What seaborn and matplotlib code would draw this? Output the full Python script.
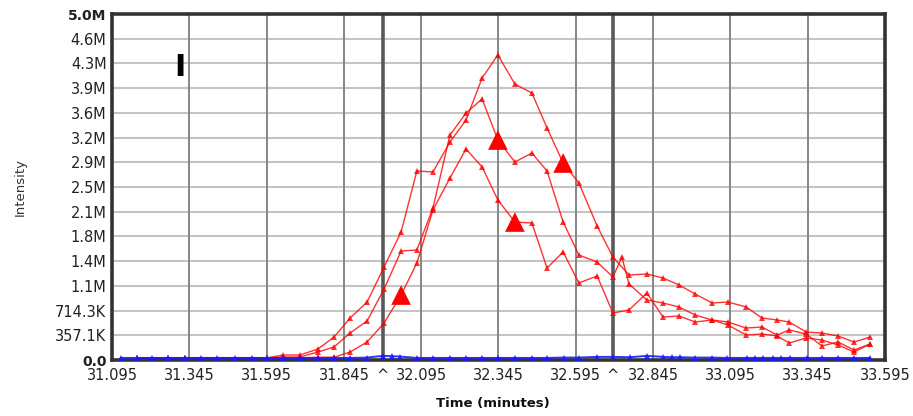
import matplotlib
matplotlib.use("Agg")
import matplotlib.pyplot as plt
import pandas as pd
import seaborn as sns

# Extracted ion chromatograms: retention time (minutes) and intensity for three precursor traces
time_a = [31.176, 31.276, 31.331, 31.596, 31.648, 31.703, 31.761, 31.813, 31.865, 31.920,
          31.975, 32.030, 32.081, 32.133, 32.188, 32.240, 32.292, 32.343, 32.398, 32.453,
          32.502, 32.554, 32.605, 32.664, 32.715, 32.767, 32.825, 32.877, 32.929, 32.981,
          33.036, 33.087, 33.146, 33.197, 33.246, 33.285, 33.340, 33.391, 33.443, 33.495, 33.547]
int_a = [30e3, 30e3, 30e3, 30e3, 72e3, 72e3, 159e3, 332e3, 607e3, 838e3,
         1344e3, 1850e3, 2731e3, 2717e3, 3150e3, 3468e3, 4075e3, 4408e3, 3988e3, 3858e3,
         3353e3, 2847e3, 2558e3, 1936e3, 1488e3, 1228e3, 1243e3, 1185e3, 1084e3, 954e3,
         824e3, 838e3, 766e3, 607e3, 578e3, 549e3, 405e3, 390e3, 347e3, 260e3, 332e3]

time_b = [31.176, 31.276, 31.331, 31.596, 31.648, 31.703, 31.761, 31.813, 31.865, 31.920,
          31.975, 32.030, 32.081, 32.133, 32.188, 32.240, 32.292, 32.343, 32.398, 32.453,
          32.502, 32.554, 32.605, 32.664, 32.715, 32.744, 32.767, 32.825, 32.877, 32.929,
          32.981, 33.036, 33.087, 33.146, 33.197, 33.246, 33.285, 33.340, 33.391, 33.443,
          33.495, 33.547]
int_b = [30e3, 30e3, 30e3, 30e3, 43e3, 43e3, 116e3, 188e3, 390e3, 564e3,
         1026e3, 1575e3, 1590e3, 2197e3, 3251e3, 3569e3, 3772e3, 3179e3, 2861e3, 2991e3,
         2731e3, 1994e3, 1517e3, 1416e3, 1199e3, 1488e3, 1098e3, 867e3, 824e3, 766e3,
         650e3, 578e3, 549e3, 462e3, 477e3, 361e3, 434e3, 376e3, 202e3, 260e3,
         145e3, 231e3]

time_c = [31.176, 31.276, 31.331, 31.596, 31.648, 31.703, 31.761, 31.813, 31.865, 31.920,
          31.975, 32.030, 32.081, 32.133, 32.188, 32.240, 32.292, 32.343, 32.398, 32.453,
          32.502, 32.554, 32.605, 32.664, 32.715, 32.767, 32.825, 32.877, 32.929, 32.981,
          33.036, 33.087, 33.146, 33.197, 33.246, 33.285, 33.340, 33.391, 33.443, 33.495, 33.547]
int_c = [30e3, 30e3, 30e3, 30e3, 30e3, 30e3, 40e3, 40e3, 116e3, 260e3,
         535e3, 939e3, 1402e3, 2168e3, 2630e3, 3049e3, 2789e3, 2312e3, 1994e3, 1980e3,
         1329e3, 1561e3, 1113e3, 1214e3, 679e3, 723e3, 968e3, 621e3, 636e3, 549e3,
         578e3, 506e3, 361e3, 376e3, 347e3, 246e3, 318e3, 289e3, 217e3, 116e3, 231e3]

# Background trace near the baseline
time_bg = [31.124, 31.176, 31.224, 31.276, 31.331, 31.383, 31.435, 31.493, 31.548, 31.596,
           31.648, 31.703, 31.761, 31.813, 31.865, 31.920, 31.971, 32.001, 32.027, 32.081,
           32.133, 32.188, 32.240, 32.292, 32.343, 32.398, 32.453, 32.502, 32.557, 32.605,
           32.664, 32.715, 32.770, 32.825, 32.877, 32.906, 32.932, 32.981, 33.036, 33.083,
           33.148, 33.175, 33.200, 33.233, 33.259, 33.288, 33.343, 33.391, 33.443, 33.495, 33.547]
int_bg = [30e3, 30e3, 30e3, 30e3, 30e3, 30e3, 30e3, 30e3, 30e3, 30e3,
          30e3, 30e3, 30e3, 30e3, 30e3, 35e3, 60e3, 55e3, 50e3, 30e3,
          30e3, 30e3, 30e3, 30e3, 30e3, 30e3, 30e3, 30e3, 35e3, 35e3,
          45e3, 45e3, 40e3, 60e3, 45e3, 40e3, 40e3, 35e3, 35e3, 30e3,
          30e3, 30e3, 30e3, 30e3, 30e3, 30e3, 30e3, 30e3, 30e3, 30e3, 30e3]

# MS/MS identification events: (trace, retention time)
apex_trace = ["C", "B", "C", "A"]
apex_time = [32.030, 32.343, 32.398, 32.554]

# Peak integration boundaries
boundary_times = [31.9715, 32.715]

x_ticks = [31.095, 31.345, 31.595, 31.845, 32.095, 32.345, 32.595, 32.845, 33.095, 33.345, 33.595]
x_labels = ["31.095", "31.345", "31.595", "31.845", "32.095", "32.345", "32.595",
            "32.845", "33.095", "33.345", "33.595"]
y_labels = ["0.0", "357.1K", "714.3K", "1.1M", "1.4M", "1.8M", "2.1M", "2.5M",
            "2.9M", "3.2M", "3.6M", "3.9M", "4.3M", "4.6M", "5.0M"]
y_max = 5.0e6
y_ticks = [i * y_max / (len(y_labels) - 1) for i in range(len(y_labels))]

red = pd.concat([
    pd.DataFrame({"time": time_a, "intensity": int_a, "trace": "A"}),
    pd.DataFrame({"time": time_b, "intensity": int_b, "trace": "B"}),
    pd.DataFrame({"time": time_c, "intensity": int_c, "trace": "C"}),
], ignore_index=True)
background = pd.DataFrame({"time": time_bg, "intensity": int_bg})

apex_int = [red[(red.trace == tr) & (red.time == t)].intensity.iloc[0]
            for tr, t in zip(apex_trace, apex_time)]
apex = pd.DataFrame({"time": apex_time, "intensity": apex_int})

sns.set_theme(style="white")
plt.rcParams["font.family"] = ["DejaVu Sans"]

fig = plt.figure(figsize=(9.13, 4.16), dpi=100)
ax = fig.add_axes([112 / 913, 1 - 360 / 416, (885 - 112) / 913, (360 - 14) / 416])

# grid: light horizontal, darker vertical
for yv in y_ticks[1:-1]:
    ax.axhline(yv, color="#c4c4c4", lw=1.5, zorder=0)
for xv in x_ticks[1:-1]:
    ax.axvline(xv, color="#858585", lw=1.4, zorder=0)
for xv in boundary_times:
    ax.axvline(xv, color="#5a5a5a", lw=2.6, zorder=0.5)

sns.lineplot(data=red, x="time", y="intensity", hue="trace",
             palette={"A": "#ff0000", "B": "#ff0000", "C": "#ff0000"},
             estimator=None, sort=False, legend=False, ax=ax,
             marker="^", markersize=5, markeredgewidth=0, linewidth=1.0, alpha=0.8)
sns.lineplot(data=background, x="time", y="intensity", color="#1a1aff",
             estimator=None, sort=False, legend=False, ax=ax,
             marker="^", markersize=5, markeredgewidth=0, linewidth=1.4, alpha=0.9,
             zorder=3, clip_on=False)
sns.scatterplot(data=apex, x="time", y="intensity", marker="^", s=200,
                color="#ff0000", edgecolor="none", legend=False, ax=ax, zorder=5)

ax.set_xlim(x_ticks[0], x_ticks[-1])
ax.set_ylim(0, y_max)

ax.set_xticks(x_ticks + boundary_times)
ax.set_xticklabels(x_labels + ["^", "^"])
ax.set_yticks(y_ticks)
ax.set_yticklabels(y_labels)
ax.tick_params(axis="both", length=0, labelsize=10.5, colors="#222222")
ax.tick_params(axis="x", pad=6)
ax.tick_params(axis="y", pad=4)
for lab in ax.get_yticklabels():
    if lab.get_text() in ("0.0", "5.0M"):
        lab.set_fontweight("bold")
        lab.set_fontsize(10)

ax.set_xlabel("")
ax.set_ylabel("")
for sp in ax.spines.values():
    sp.set_linewidth(2.6)
    sp.set_color("#333333")

fig.text(20 / 913, 1 - 187 / 416, "Intensity", rotation=90, ha="center", va="center",
         fontsize=9.5, color="#333333")
fig.text(493 / 913, 1 - 404 / 416, "Time (minutes)", ha="center", va="center",
         fontsize=9.5, fontweight="bold", color="#111111")
fig.text(180 / 913, 1 - 68 / 416, "I", ha="center", va="center",
         fontsize=22, fontweight="heavy", color="black")

fig.savefig("out.png", dpi=100)
